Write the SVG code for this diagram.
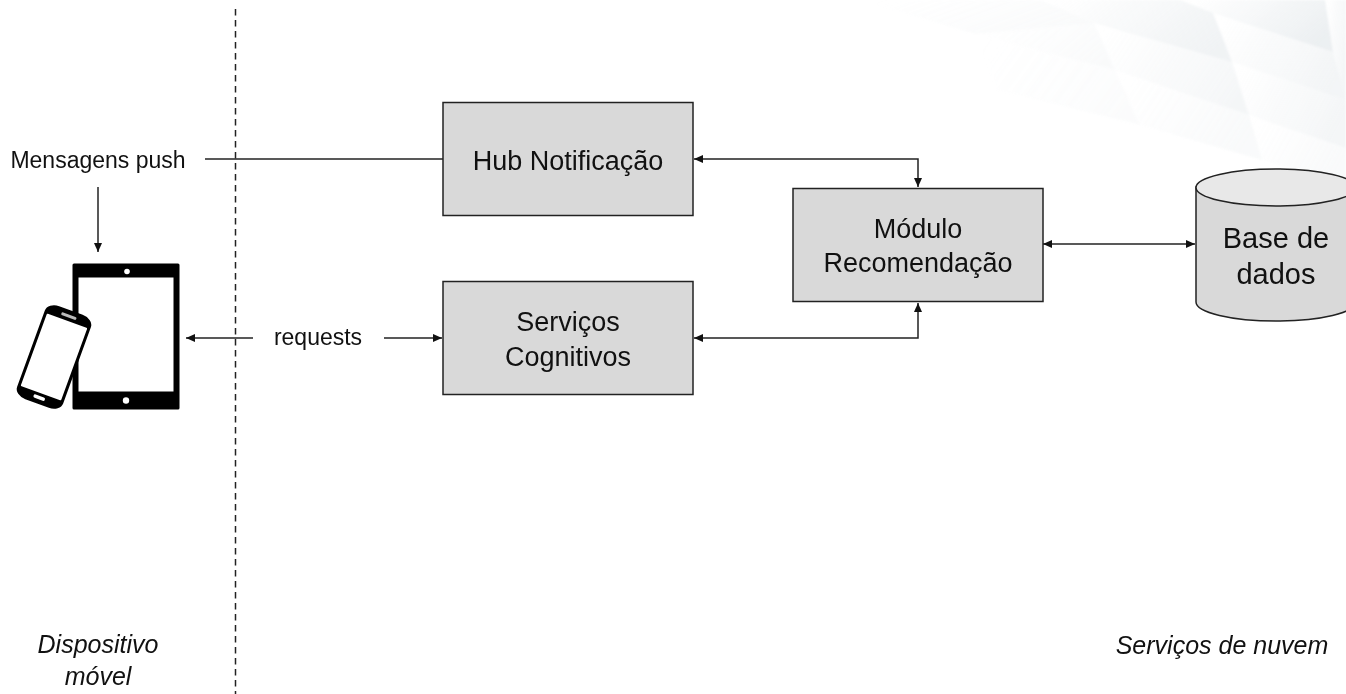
<svg xmlns="http://www.w3.org/2000/svg" width="1346" height="694" viewBox="0 0 1346 694">
<defs>
<marker id="a" markerWidth="10" markerHeight="8" refX="9" refY="4" orient="auto-start-reverse" markerUnits="userSpaceOnUse"><path d="M0 0L9 4L0 8Z" fill="#111"/></marker>
<linearGradient id="f" x1="0" y1="0.2" x2="1" y2="0.6"><stop offset="0" stop-color="#e3e8eb" stop-opacity="0"/><stop offset="1" stop-color="#e3e8eb"/></linearGradient>
<filter id="soft"><feGaussianBlur stdDeviation="1"/></filter>
</defs>
<style>
text{font-family:"Liberation Sans",Arial,sans-serif;fill:#111;text-anchor:middle}
.box{fill:#d9d9d9;stroke:#222;stroke-width:1.5}
.l{font-size:27px}
.s{font-size:23px}
.i{font-size:25px;font-style:italic}
.c{fill:none;stroke:#222;stroke-width:1.5}
polygon{fill:url(#f)}
</style>
<rect width="1346" height="694" fill="#fff"/>
<g id="background" filter="url(#soft)" opacity=".72">
<polygon points="860,0 1040,0 1094,23 975,34" opacity=".25"/>
<polygon points="1040,0 1180,0 1213,13 1232,62 1094,23" opacity=".75"/>
<polygon points="1180,0 1325,0 1333,52 1213,13" opacity=".95"/>
<polygon points="1325,0 1346,0 1346,100 1333,52" opacity=".55"/>
<polygon points="1213,13 1333,52 1346,100 1232,62" opacity=".6"/>
<polygon points="975,34 1094,23 1115,70" opacity=".25"/>
<polygon points="1094,23 1232,62 1249,115 1115,70" opacity=".5"/>
<polygon points="1232,62 1346,100 1346,148 1249,115" opacity=".55"/>
<polygon points="975,34 1115,70 1140,125 997,90" opacity=".18"/>
<polygon points="1115,70 1249,115 1262,160 1140,125" opacity=".3"/>
<polygon points="1249,115 1346,148 1346,185 1262,160" opacity=".3"/>
</g>
<g id="divider"><line x1="235.500" y1="9" x2="235.500" y2="694" stroke="#222" stroke-width="1.500" stroke-dasharray="6.500 4.500"/></g>
<g id="connectors">
<path class="c" d="M205 159H443"/>
<path class="c" d="M98 187V252" marker-end="url(#a)"/>
<path class="c" d="M253 338H186" marker-end="url(#a)"/>
<path class="c" d="M384 338H442" marker-end="url(#a)"/>
<path class="c" d="M918 187V159H694" marker-start="url(#a)" marker-end="url(#a)"/>
<path class="c" d="M918 303V338H694" marker-start="url(#a)" marker-end="url(#a)"/>
<path class="c" d="M1043 244H1195" marker-start="url(#a)" marker-end="url(#a)"/>
</g>
<g id="mobile-label"><text class="s" x="98" y="168">Mensagens push</text></g>
<g id="device">
<rect x="72.500" y="263.500" width="107" height="146" rx="1.500" fill="#000"/>
<rect x="78.500" y="277.500" width="95" height="114" fill="#fff"/>
<circle cx="127" cy="271.500" r="2.800" fill="#fff"/>
<circle cx="126" cy="400.500" r="3.200" fill="#fff"/>
<g transform="rotate(20 54 357)">
<rect x="29.500" y="307.500" width="49" height="99" rx="12" ry="9" fill="#000"/>
<rect x="32.500" y="318.500" width="43" height="77" rx="1" fill="#fff"/>
<rect x="46" y="312" width="16" height="3" rx="1.500" fill="#bbb"/>
<rect x="48" y="398.500" width="12" height="3.500" rx="1.700" fill="#fff"/>
</g>
</g>
<g id="requests-label"><text class="s" x="318" y="345">requests</text></g>
<g id="hub"><rect class="box" x="443" y="102.500" width="250" height="113"/><text class="l" x="568" y="170">Hub Notificação</text></g>
<g id="servicos"><rect class="box" x="443" y="281.500" width="250" height="113"/><text class="l" x="568" y="331">Serviços</text><text class="l" x="568" y="366">Cognitivos</text></g>
<g id="modulo"><rect class="box" x="793" y="188.500" width="250" height="113"/><text class="l" x="918" y="238">Módulo</text><text class="l" x="918" y="272">Recomendação</text></g>
<g id="base">
<path d="M1196 187V302A80 19 0 0 0 1356 302V187Z" fill="#d9d9d9" stroke="#222" stroke-width="1.500"/>
<ellipse cx="1276" cy="187.500" rx="80" ry="18.500" fill="#e8e8e8" stroke="#222" stroke-width="1.500"/>
<text x="1276" y="248" font-size="29">Base de</text><text x="1276" y="284" font-size="29">dados</text>
</g>
<g id="labels">
<text class="i" x="98" y="653">Dispositivo</text><text class="i" x="98" y="685">móvel</text>
<text class="i" x="1222" y="654">Serviços de nuvem</text>
</g>
</svg>
